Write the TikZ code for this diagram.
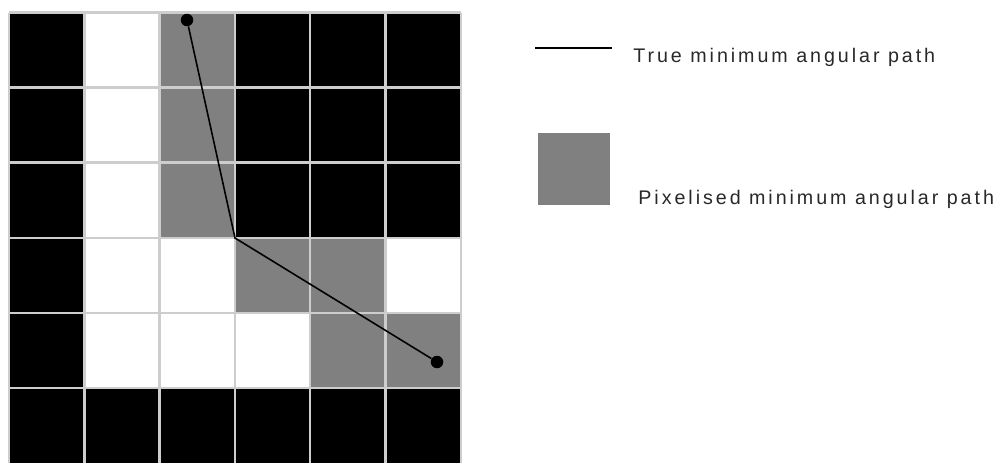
\documentclass[tikz,border=0pt]{standalone}
\usepackage{fontspec}
\newfontfamily\legendfont[LetterSpace=15]{Liberation Sans}
\usetikzlibrary{positioning}
\definecolor{PathGray}{RGB}{128, 128, 128}
\definecolor{GridLine}{RGB}{205, 205, 205}
\definecolor{LegendInk}{RGB}{40, 40, 40}

\begin{document}
\begin{tikzpicture}[x=0.02cm, y=-0.02cm,
    every node/.style={font=\legendfont\fontsize{11.2}{13}\selectfont, text=LegendInk},
    pathdot/.style={circle, fill=black, inner sep=0pt, minimum size=0.25cm},
    truepath/.style={black, line width=0.9pt}]
    \useasboundingbox (0,0) rectangle (999,463);
    % black pixels
    \foreach \c/\r in {0/0,3/0,4/0,5/0, 0/1,3/1,4/1,5/1, 0/2,3/2,4/2,5/2, 0/3, 0/4, 0/5,1/5,2/5,3/5,4/5,5/5}
        \fill[black] (9+75.3*\c, 12.5+75.1*\r) rectangle ++(75.3, 75.1);
    % pixelised path
    \foreach \c/\r in {2/0, 2/1, 2/2, 3/3, 4/3, 4/4, 5/4}
        \fill[PathGray] (9+75.3*\c, 12.5+75.1*\r) rectangle ++(75.3, 75.1);
    % grid
    \foreach \i in {0,...,6}
        \draw[GridLine, line width=1.4pt] (9+75.3*\i, 12.5) -- (9+75.3*\i, 463);
    \foreach \i in {0,...,5}
        \draw[GridLine, line width=1.4pt] (9, 12.5+75.1*\i) -- (461, 12.5+75.1*\i);
    % true path
    \node[pathdot] (start) at (187, 20) {};
    \coordinate (bend) at (235, 238);
    \node[pathdot] (end) at (437, 362) {};
    \draw[truepath] (start) -- (bend) -- (end);
    % legend
    \coordinate (keyA) at (535, 48);
    \coordinate (keyB) at (612, 48);
    \draw[black, line width=1.1pt] (keyA) -- (keyB);
    \node[anchor=base west, inner sep=0pt] (truelabel) at (633, 62.5) {True minimum angular path};
    \node[fill=PathGray, inner sep=0pt, minimum size=1.44cm] (graykey) at (574, 169) {};
    \node[anchor=base west, inner sep=0pt] (pixlabel) at (638, 204) {Pixelised minimum angular path};
\end{tikzpicture}
\end{document}
